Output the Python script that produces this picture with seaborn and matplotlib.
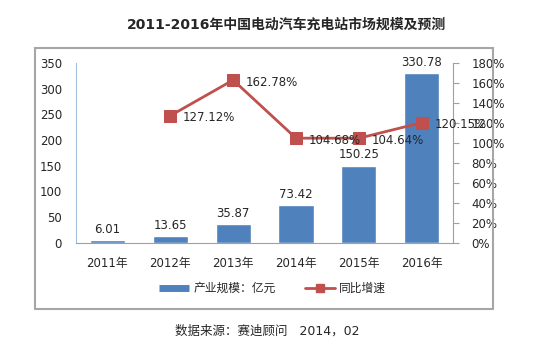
import seaborn as sns
import matplotlib.pyplot as plt
from matplotlib.patches import Rectangle
from matplotlib.lines import Line2D
import pandas as pd

# 数据
years = ["2011年", "2012年", "2013年", "2014年", "2015年", "2016年"]
scale = [6.01, 13.65, 35.87, 73.42, 150.25, 330.78]
growth_years = ["2012年", "2013年", "2014年", "2015年", "2016年"]
growth = [127.12, 162.78, 104.68, 104.64, 120.15]

sns.set_style("white")
plt.rcParams['font.family'] = ['DejaVu Sans', 'Noto Sans CJK SC']

bar_color = "#4F81BD"
line_color = "#C0504D"

fig = plt.figure(figsize=(5.35, 3.51), dpi=100)
ax = fig.add_axes([0.142, 0.308, 0.705, 0.513])

df = pd.DataFrame({"year": years, "scale": scale})
sns.barplot(data=df, x="year", y="scale", color=bar_color, width=0.56,
            saturation=1, ax=ax)
ax.set_ylim(0, 350)
ax.set_yticks(range(0, 351, 50))
ax.set_xlim(-0.5, 5.5)
ax.set_xlabel("")
ax.set_ylabel("")
ax.tick_params(axis="x", labelsize=8.5, length=0, pad=10)
ax.tick_params(axis="y", labelsize=8.5, length=0, pad=10)
for i, v in enumerate(scale):
    ax.text(i, v + 8, f"{v:.2f}", ha="center", va="bottom", fontsize=8.5)

for s in ["top", "right"]:
    ax.spines[s].set_visible(False)
ax.spines["left"].set_color("#A7BFDE")
ax.spines["bottom"].set_color("#A0A0A0")

# 同比增速
ax2 = ax.twinx()
gx = [years.index(y) for y in growth_years]
gdf = pd.DataFrame({"x": gx, "growth": growth})
sns.lineplot(data=gdf, x="x", y="growth", color=line_color, linewidth=2,
             marker="s", markersize=8, markeredgecolor=line_color, ax=ax2)
ax2.set_ylim(0, 180)
ax2.set_yticks(range(0, 181, 20))
ax2.set_yticklabels([f"{t}%" for t in range(0, 181, 20)])
ax2.set_xlim(-0.5, 5.5)
ax2.set_ylabel("")
ax2.tick_params(axis="y", labelsize=8.5, length=4, color="#A0A0A0",
                direction="out", right=True, pad=9)
for s in ["top", "left", "bottom"]:
    ax2.spines[s].set_visible(False)
ax2.spines["right"].set_color("#A0A0A0")
for x, v in zip(gx, growth):
    ax2.text(x + 0.2, v - 2, f"{v:.2f}%", ha="left", va="center", fontsize=8.5)

# 标题
fig.text(0.535, 0.93, "2011-2016年中国电动汽车充电站市场规模及预测", ha="center",
         va="center", fontsize=10, fontweight="bold")

# 图例
handles = [Line2D([0], [0], color=bar_color, linewidth=5, solid_capstyle="butt"),
           Line2D([0], [0], color=line_color, linewidth=2, marker="s", markersize=6)]
fig.legend(handles, ["产业规模：亿元", "同比增速"], loc="center",
           bbox_to_anchor=(0.51, 0.178), ncol=2, frameon=False, fontsize=8.5,
           handlelength=2.5, columnspacing=2.5, handletextpad=0.4)

# 外框
fig.add_artist(Rectangle((0.065, 0.12), 0.857, 0.743, transform=fig.transFigure,
                         fill=False, edgecolor="#A6A6A6", linewidth=1.5))

fig.text(0.5, 0.057, "数据来源：赛迪顾问   2014，02", ha="center", va="center", fontsize=9)

plt.savefig("out.png", dpi=100)
plt.close()
